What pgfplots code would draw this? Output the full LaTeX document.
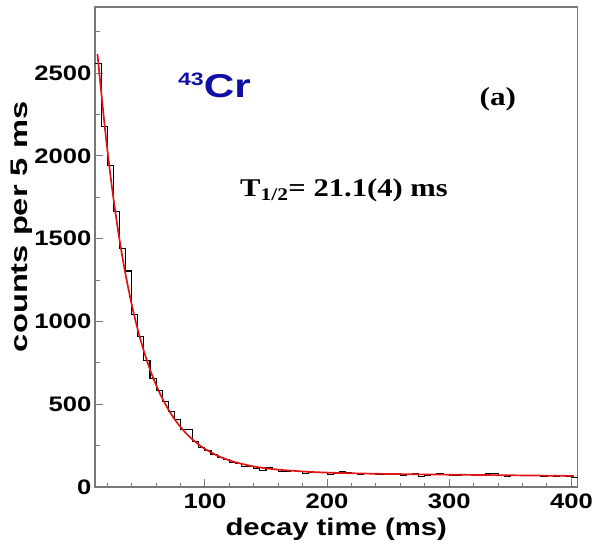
\documentclass[border=0pt]{standalone}
\usepackage{pgfplots}
\pgfplotsset{compat=1.18}
\usepackage{fontspec}
\setmainfont{Liberation Sans}[FakeStretch=1.22]
\newfontfamily\tms{Liberation Serif}[FakeStretch=1.2]
\newfontfamily\arl{Liberation Sans}[FakeStretch=1.28]
\newfontfamily\ylab{Liberation Sans}[FakeStretch=1.36]
\definecolor{crblue}{RGB}{15,15,165}
\definecolor{fitred}{RGB}{225,20,20}
\definecolor{axgray}{RGB}{120,120,120}
\begin{document}
\begin{tikzpicture}
\begin{axis}[
  scale only axis, width=482.5pt, height=480pt,
  at={(0,0)}, anchor=south west,
  xmin=10, xmax=405, ymin=0, ymax=2900,
  xtick={100,200,300,400}, minor xtick={20,40,...,380},
  ytick={0,500,...,2500}, minor ytick={250,750,...,2750},
  xtick pos=bottom, ytick pos=left, tick align=inside,
  major tick length=8pt, minor tick length=4.5pt,
  axis line style={axgray, line width=1.2pt},
  every tick/.style={axgray, line width=1pt},
  /pgf/number format/assume math mode=true,
  /pgf/number format/1000 sep={},
  ticklabel style={font=\bfseries\fontsize{21}{21}\selectfont, text=black},
  xticklabel style={yshift=-3pt},
  xlabel={decay time (ms)},
  ylabel={counts per 5 ms},
  xlabel style={font=\bfseries\fontsize{24}{24}\selectfont, at={(axis description cs:0.5,-0.1)}, anchor=base},
  ylabel style={font=\ylab\bfseries\fontsize{24}{24}\selectfont, at={(axis description cs:-0.151,0.542)}, anchor=center},
  clip=true,
]
\addplot[const plot, black, line width=1.1pt, mark=none] coordinates {
(10,2558)(15,2180)(20,1941)(25,1665)(30,1442)(35,1305)(40,1042)(45,911)(50,762)(55,657)
(60,583)(65,516)(70,458)(75,408)(80,350)(85,350)(90,275)(95,240)(100,218)(105,196)
(110,176)(115,168)(120,150)(125,141)(130,122)(135,125)(140,112)(145,100)(150,118)(155,104)
(160,92)(165,96)(170,99)(175,94)(180,84)(185,86)(190,90)(195,88)(200,78)(205,80)
(210,92)(215,88)(220,82)(225,74)(230,80)(235,84)(240,73)(245,76)(250,80)(255,82)
(260,70)(265,74)(270,79)(275,66)(280,68)(285,76)(290,80)(295,77)(300,68)(305,69)
(310,74)(315,76)(320,72)(325,78)(330,82)(335,80)(340,70)(345,66)(350,68)(355,72)
(360,69)(365,67)(370,71)(375,66)(380,70)(385,64)(390,68)(395,61)(400,59)(405,59)
};
\addplot[fitred, line width=1.7pt, mark=none, smooth] coordinates {
(12,2615)(15,2393)(17.5,2212)(20,2045)(22.5,1891)(25,1749)(27.5,1619)(30,1498)(32.5,1387)
(35,1285)(40,1104)(45,951)(50,821)(55,710)(60,616)(65,537)(70,469)(75,411)(80,363)
(85,321)(90,286)(95,256)(100,230)(110,190)(120,161)(130,140)(140,124)(150,113)(160,105)
(170,99)(180,94)(190,90)(200,87)(220,83)(240,80)(260,78)(280,76)(300,74.5)(320,73)
(340,71.5)(360,70)(380,68.5)(402,67)
};
\node[anchor=base west, inner sep=0, text=crblue, font=\arl\bfseries] at (rel axis cs:0.172,0.8125)
  {\raisebox{12pt}{\fontsize{18}{18}\selectfont 43}\fontsize{33}{33}\selectfont Cr};
\node[anchor=base west, inner sep=0, font=\tms\bfseries\fontsize{25.5}{25.5}\selectfont] at (rel axis cs:0.3005,0.6048)
  {T\textsubscript{1/2}= 21.1(4) ms};
\node[anchor=base, inner sep=0, font=\tms\bfseries\fontsize{26}{26}\selectfont] at (rel axis cs:0.835,0.794)
  {(a)};
\end{axis}
\pgfresetboundingbox
\useasboundingbox (-95pt,-55pt) rectangle (498pt,487pt);
\end{tikzpicture}
\end{document}
